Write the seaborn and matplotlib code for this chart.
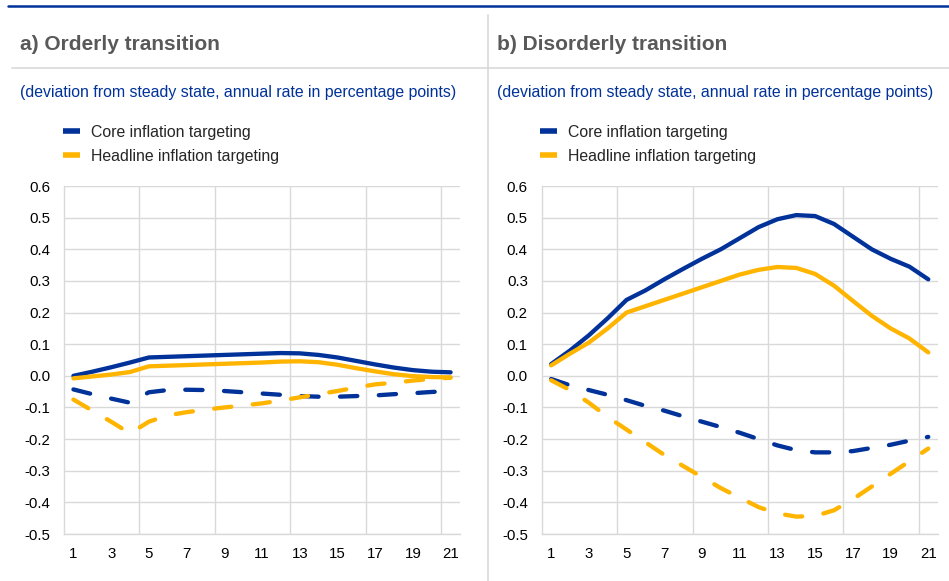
import matplotlib
matplotlib.use("Agg")
import matplotlib.pyplot as plt
import seaborn as sns
from matplotlib.lines import Line2D

sns.set_theme(style="white")
plt.rcParams['font.family'] = ['Liberation Sans', 'DejaVu Sans']

# Data
periods = list(range(1, 22))

orderly_core_solid = [0.000, 0.013, 0.027, 0.042, 0.058, 0.060, 0.062, 0.064, 0.066, 0.068, 0.070,
                      0.072, 0.071, 0.066, 0.058, 0.047, 0.036, 0.026, 0.018, 0.013, 0.011]
orderly_head_solid = [-0.008, -0.002, 0.004, 0.012, 0.030, 0.032, 0.034, 0.036, 0.038, 0.040, 0.042,
                      0.045, 0.046, 0.043, 0.035, 0.024, 0.014, 0.005, -0.001, -0.004, -0.005]
orderly_core_dash = [-0.043, -0.058, -0.072, -0.085, -0.052, -0.045, -0.044, -0.045, -0.048, -0.052, -0.056,
                     -0.060, -0.064, -0.066, -0.066, -0.064, -0.062, -0.058, -0.055, -0.051, -0.048]
orderly_head_dash = [-0.075, -0.110, -0.145, -0.182, -0.145, -0.125, -0.115, -0.107, -0.100, -0.094, -0.087,
                     -0.078, -0.068, -0.058, -0.048, -0.037, -0.027, -0.022, -0.015, -0.010, -0.006]

disorderly_core_solid = [0.037, 0.080, 0.128, 0.182, 0.240, 0.270, 0.305, 0.338, 0.370, 0.400, 0.435,
                         0.470, 0.495, 0.508, 0.505, 0.480, 0.440, 0.400, 0.370, 0.345, 0.305]
disorderly_head_solid = [0.033, 0.070, 0.105, 0.150, 0.200, 0.220, 0.240, 0.260, 0.280, 0.300, 0.320,
                         0.335, 0.344, 0.341, 0.322, 0.285, 0.237, 0.190, 0.150, 0.118, 0.074]
disorderly_core_dash = [-0.010, -0.030, -0.045, -0.060, -0.077, -0.095, -0.110, -0.128, -0.145, -0.162, -0.180,
                        -0.200, -0.220, -0.235, -0.242, -0.242, -0.238, -0.228, -0.218, -0.205, -0.193]
disorderly_head_dash = [-0.014, -0.045, -0.085, -0.130, -0.170, -0.210, -0.250, -0.285, -0.320, -0.355, -0.385,
                        -0.415, -0.435, -0.445, -0.443, -0.425, -0.390, -0.350, -0.310, -0.270, -0.230]

y_ticks = [-0.5, -0.4, -0.3, -0.2, -0.1, 0.0, 0.1, 0.2, 0.3, 0.4, 0.5, 0.6]
y_tick_labels = [f"{v:.1f}" for v in y_ticks]
x_ticks = list(range(1, 22, 2))
x_tick_labels = [str(v) for v in x_ticks]

titles = ["a) Orderly transition", "b) Disorderly transition"]
subtitle = "(deviation from steady state, annual rate in percentage points)"
legend_labels = ["Core inflation targeting", "Headline inflation targeting"]

BLUE = "#003299"
YELLOW = "#FFB400"
GRID = "#d9d9d9"
TITLE_GREY = "#595959"

fig = plt.figure(figsize=(9.49, 5.81), dpi=100)
W, H = 949, 581

# frame decorations
fig.add_artist(Line2D([8 / W, 1], [1 - 5.7 / H, 1 - 5.7 / H], color=BLUE, lw=1.8))
fig.add_artist(Line2D([12 / W, 1], [1 - 68 / H, 1 - 68 / H], color=GRID, lw=1.2))
fig.add_artist(Line2D([487.5 / W, 487.5 / W], [0, 1 - 15 / H], color=GRID, lw=1.2))

panels = [
    (64, orderly_core_solid, orderly_head_solid, orderly_core_dash, orderly_head_dash),
    (541.7, disorderly_core_solid, disorderly_head_solid, disorderly_core_dash, disorderly_head_dash),
]
text_x = [20, 496.7]

for i, (left, cs, hs, cd, hd) in enumerate(panels):
    ax = fig.add_axes([left / W, 47 / H, 396 / W, 348 / H])
    lw = 3.1
    sns.lineplot(x=periods, y=cs, ax=ax, color=BLUE, lw=lw, solid_capstyle="round", solid_joinstyle="round")
    sns.lineplot(x=periods, y=hs, ax=ax, color=YELLOW, lw=lw, solid_capstyle="round", solid_joinstyle="round")
    sns.lineplot(x=periods, y=cd, ax=ax, color=BLUE, lw=lw, linestyle=(0, (4, 5)), dash_capstyle="round")
    sns.lineplot(x=periods, y=hd, ax=ax, color=YELLOW, lw=lw, linestyle=(0, (4, 5)), dash_capstyle="round")

    ax.set_xlim(0.5, 21.5)
    ax.set_ylim(-0.5, 0.6)
    ax.set_yticks(y_ticks)
    ax.set_yticklabels(y_tick_labels)
    ax.set_xticks(x_ticks)
    ax.set_xticklabels(x_tick_labels)
    ax.set_xticks([4.5, 8.5, 12.5, 16.5, 20.5], minor=True)
    ax.tick_params(axis="both", which="both", length=0, labelsize=10.8, colors="#000000")
    ax.tick_params(axis="x", pad=9)
    ax.tick_params(axis="y", pad=10)
    ax.grid(axis="y", which="major", color=GRID, lw=1)
    ax.grid(axis="x", which="minor", color=GRID, lw=1)
    ax.grid(axis="x", which="major", visible=False)
    for side in ["top", "right"]:
        ax.spines[side].set_visible(False)
    for side in ["left", "bottom"]:
        ax.spines[side].set_color(GRID)
        ax.spines[side].set_linewidth(1)
    ax.set_xlabel("")
    ax.set_ylabel("")

    handles = [Line2D([], [], color=BLUE, lw=4, solid_capstyle="butt"),
               Line2D([], [], color=YELLOW, lw=4, solid_capstyle="butt")]
    fig.legend(handles, legend_labels, loc="upper left",
               bbox_to_anchor=((text_x[i] + 43) / W, 1 - 124.5 / H),
               frameon=False, fontsize=11.4, handlelength=1.08, handletextpad=0.68,
               labelspacing=0.6, borderpad=0, borderaxespad=0)

    fig.text(text_x[i] / W, 1 - 44.5 / H, titles[i], fontsize=15, fontweight="bold",
             color=TITLE_GREY, va="center", ha="left")
    fig.text(text_x[i] / W, 1 - 93 / H, subtitle, fontsize=11.4, color=BLUE,
             va="center", ha="left")

fig.savefig("out.png", dpi=100)
